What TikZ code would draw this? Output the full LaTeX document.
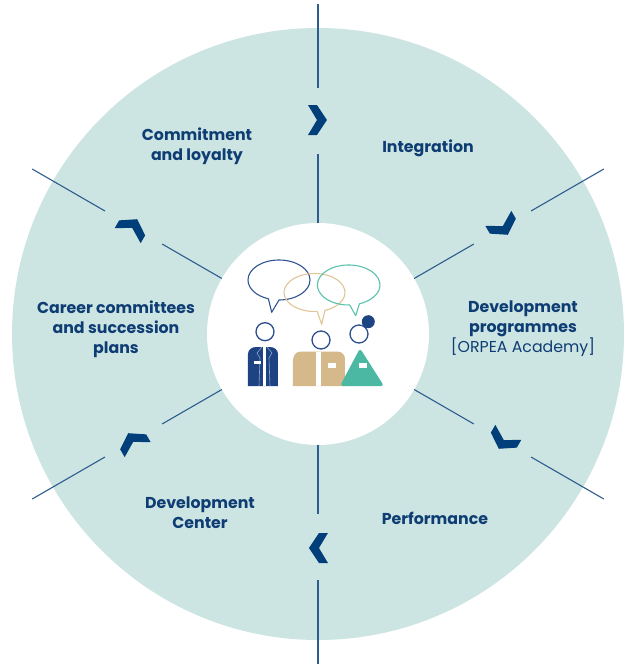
\documentclass[tikz,border=0pt]{standalone}
\usepackage{fontspec}
\setmainfont{Poppins}
\definecolor{ringteal}{RGB}{205,229,226}
\definecolor{spokeblue}{RGB}{45,92,142}
\definecolor{chevblue}{RGB}{0,63,122}
\definecolor{labelblue}{RGB}{14,61,116}
\definecolor{suitnavy}{RGB}{30,67,131}
\definecolor{lapelblue}{RGB}{140,165,205}
\definecolor{jackettan}{RGB}{213,185,138}
\definecolor{dressteal}{RGB}{75,184,163}
\definecolor{headblue}{RGB}{45,79,142}
\definecolor{bubblenavy}{RGB}{48,85,150}
\definecolor{bubbletan}{RGB}{224,197,152}
\definecolor{bubbleteal}{RGB}{91,194,174}
\begin{document}
\begin{tikzpicture}[x=1pt,y=1pt,
  spoke/.style={draw=spokeblue, line width=1.1pt},
  chev/.style={fill=chevblue},
  cyclelabel/.style={font=\bfseries\fontsize{15.8}{20}\selectfont, text=labelblue, align=center, inner sep=0pt},
  head/.style={draw=headblue, line width=1.3pt, fill=white},
  bubble/.style={line width=1.1pt, line join=round},
  lapel/.style={draw=lapelblue, line width=0.6pt},
]
\useasboundingbox (-318,-331) rectangle (309,334);

% ring and inner disc
\fill[ringteal] (0,0) circle (306);
\fill[white] (0,0) circle (111);

% spokes and clockwise chevrons
\foreach \a in {90,30,-30,-90,-150,150} {
  \draw[spoke] (\a:111) -- (\a:180);
  \draw[spoke] (\a:246) -- (\a:330);
  \fill[chev, shift={(\a:214)}, rotate={\a-90}]
    (-10,15) -- (-1,15) -- (9,0) -- (-1,-15) -- (-10,-15) -- (-1,0) -- cycle;
}

% stage labels
\node[cyclelabel] (commit) at (-121,187.5) {Commitment\\and loyalty};
\node[cyclelabel] (integ) at (110,185.5) {Integration};
\node[cyclelabel] (devprog) at (205,5) {Development\\programmes\\{\mdseries [ORPEA Academy]}};
\node[cyclelabel] (perf) at (117,-184) {Performance};
\node[cyclelabel] (devcen) at (-118,-179) {Development\\Center};
\node[cyclelabel] (career) at (-202,5) {Career committees\\and succession\\plans};

% speech bubbles
\draw[bubble, draw=bubblenavy] (-39,54) ++(270:31 and 20)
  arc[start angle=270, end angle=610, x radius=31, y radius=20] -- (-46.3,21.7) -- cycle;
\draw[bubble, draw=bubbletan] (-3.5,41.5) ++(290:30.5 and 19)
  arc[start angle=290, end angle=635, x radius=30.5, y radius=19] -- (3.7,9.7) -- cycle;
\draw[bubble, draw=bubbleteal] (30.7,49) ++(290:31.3 and 20)
  arc[start angle=290, end angle=632, x radius=31.3, y radius=20] -- (37.7,18.3) -- cycle;

% left person: suit
\fill[suitnavy] (-70,-52) -- (-70,-20) to[out=90,in=180] (-62,-13) -- (-48,-13)
  to[out=0,in=90] (-40,-20) -- (-40,-52) -- cycle;
\fill[white] (-55.3,-13) rectangle (-51.6,-52);
\draw[lapel] (-56,-13) -- (-61,-19) -- (-58,-24) -- (-59,-52);
\draw[lapel] (-51,-13) -- (-46,-19) -- (-49,-24) -- (-48,-52);
\fill[white] (-64,-27) rectangle (-57.3,-30.3);
\draw[head] (-53,2.3) circle (9);

% middle person: jacket
\fill[jackettan] (-25,-52) -- (-25,-27) to[out=90,in=180] (-18,-17.7) -- (20,-17.7)
  to[out=0,in=90] (27,-25) -- (27,-52) -- cycle;
\fill[white] (-2,-17.7) rectangle (3.3,-52);
\fill[white] (10.3,-29.3) rectangle (18,-33.7);
\draw[head] (3,-6) circle (9);

% right person: dress
\fill[dressteal, rounded corners=3] (42,-14.3) -- (66,-52) -- (22,-52) -- cycle;
\fill[white] (41,-29.3) rectangle (48.7,-33.7);
\draw[head] (41,0) circle (9);
\fill[suitnavy] (50.3,12.3) circle (6.5);
\end{tikzpicture}
\end{document}
